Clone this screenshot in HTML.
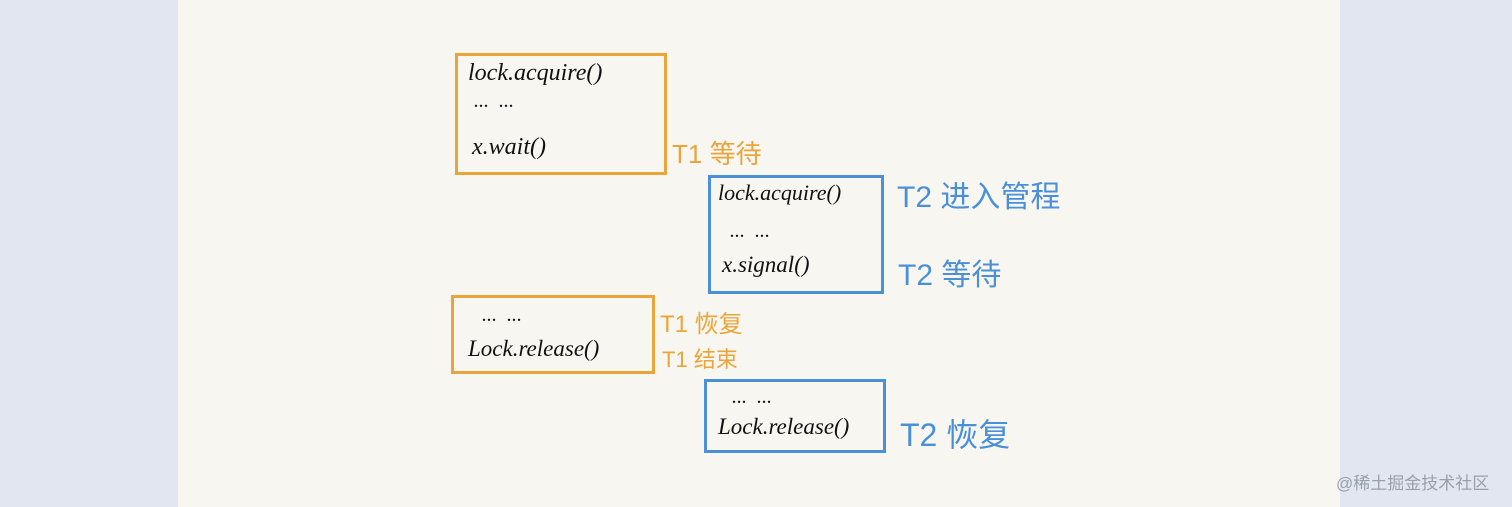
<!DOCTYPE html>
<html><head><meta charset="utf-8"><style>
body{margin:0;width:1512px;height:507px;background:#e1e6f0;position:relative;overflow:hidden;font-family:"Liberation Sans","Noto Sans CJK SC",sans-serif}
.paper{position:absolute;left:178px;top:0;width:1162px;height:507px;background:#f8f6f0}
.box{position:absolute;border:3px solid;box-sizing:border-box}
.o{border-color:#eaa53a;color:#eaa53a}
.b{border-color:#4a90d9;color:#4a90d9}
.t{position:absolute;color:#111;font-style:italic;font-family:"Liberation Serif",serif;white-space:nowrap}
.l{position:absolute;white-space:nowrap;font-family:"Liberation Sans","Noto Sans CJK SC",sans-serif}
.lo{color:#eaa53a}.lb{color:#4a90d9}
</style></head><body>
<div class="paper"></div>
<div class="box o" style="left:455px;top:53px;width:212px;height:122px"></div>
<div class="t" style="left:468px;top:60px;font-size:24px">lock.acquire()</div>
<div class="t" style="left:474px;top:90px;font-size:20px">... &nbsp;...</div>
<div class="t" style="left:472px;top:134px;font-size:24px">x.wait()</div>
<div class="l lo" style="left:672px;top:134px;font-size:26px">T1 等待</div>

<div class="box b" style="left:708px;top:175px;width:176px;height:119px"></div>
<div class="t" style="left:718px;top:180px;font-size:22px">lock.acquire()</div>
<div class="t" style="left:730px;top:220px;font-size:20px">... &nbsp;...</div>
<div class="t" style="left:722px;top:252px;font-size:23px">x.signal()</div>
<div class="l lb" style="left:897px;top:172px;font-size:30px">T2 进入管程</div>
<div class="l lb" style="left:898px;top:250px;font-size:30px">T2 等待</div>

<div class="box o" style="left:451px;top:295px;width:204px;height:79px"></div>
<div class="t" style="left:482px;top:304px;font-size:20px">... &nbsp;...</div>
<div class="t" style="left:468px;top:336px;font-size:23px">Lock.release()</div>
<div class="l lo" style="left:660px;top:304px;font-size:24px">T1 恢复</div>
<div class="l lo" style="left:662px;top:342px;font-size:22px">T1 结束</div>

<div class="box b" style="left:704px;top:379px;width:182px;height:74px"></div>
<div class="t" style="left:732px;top:386px;font-size:20px">... &nbsp;...</div>
<div class="t" style="left:718px;top:414px;font-size:23px">Lock.release()</div>
<div class="l lb" style="left:900px;top:410px;font-size:32px">T2 恢复</div>

<div class="l" style="left:1336px;top:469px;font-size:17px;color:#9aa0aa">@稀土掘金技术社区</div>
</body></html>
